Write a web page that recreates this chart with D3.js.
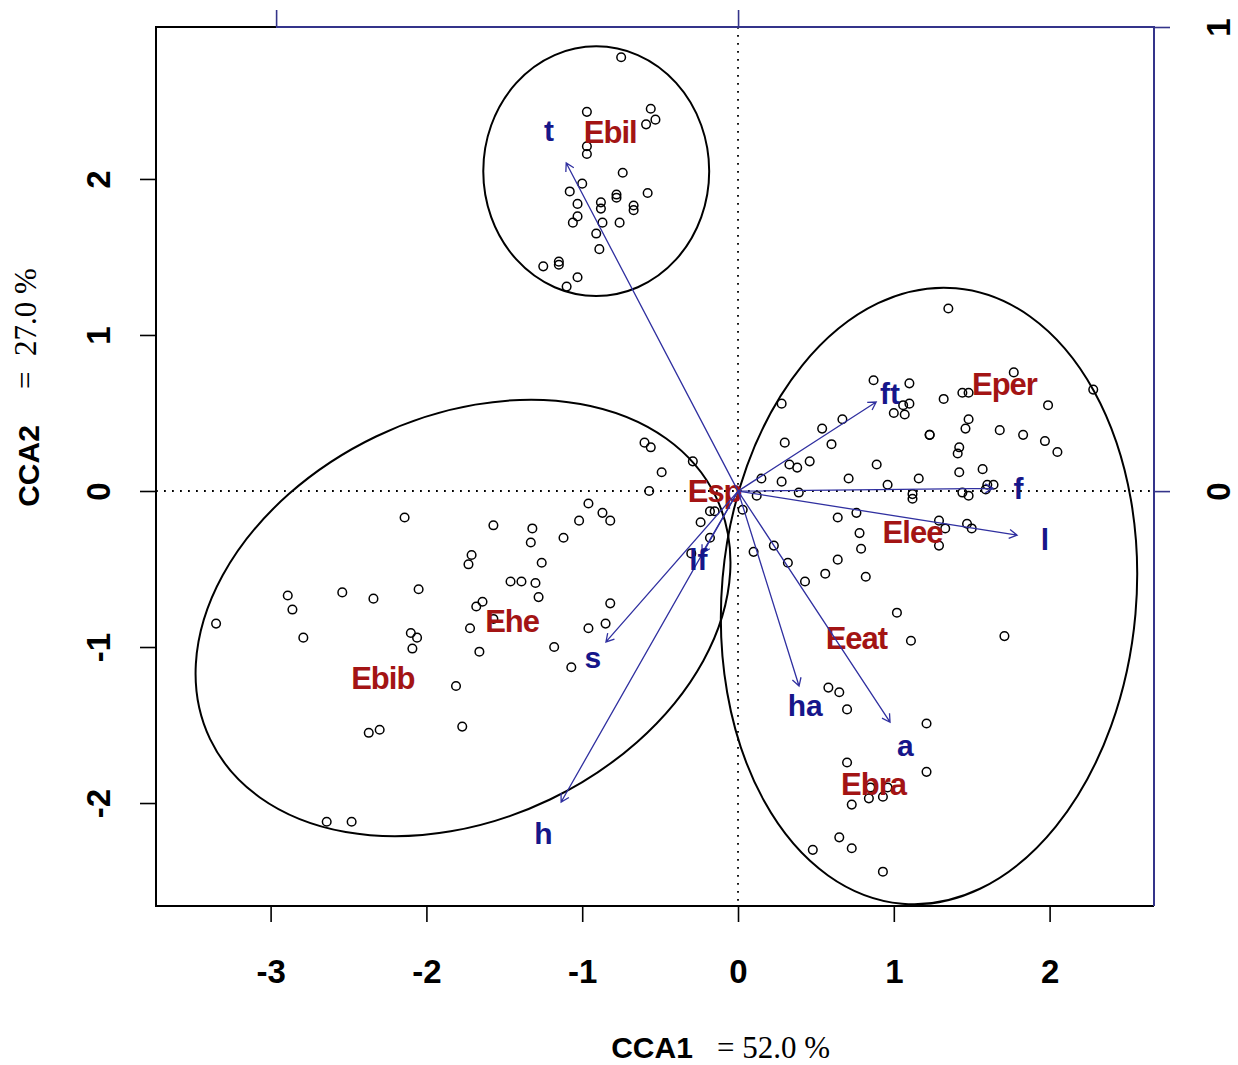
<html>
<head>
<meta charset="utf-8">
<script src="https://cdn.jsdelivr.net/npm/d3@7/dist/d3.min.js"></script>
<style>
  body { margin: 0; background: #fff; }
  text { font-family: "Liberation Sans", Arial, sans-serif; }
</style>
</head>
<body>
<svg id="chart" width="1238" height="1065"></svg>
<script>

    // site scores (CCA1, CCA2), one array per group
    var sitesTop = [
        [-0.75,2.78],[-0.97,2.43],[-0.56,2.45],[-0.59,2.35],[-0.53,2.38],[-0.97,2.21],[-0.97,2.16],
        [-0.74,2.04],[-1.00,1.97],[-1.08,1.92],[-0.78,1.90],[-0.78,1.88],[-0.58,1.91],[-1.03,1.84],
        [-0.88,1.85],[-0.88,1.81],[-0.67,1.83],[-0.67,1.80],[-1.03,1.76],[-1.06,1.72],[-0.87,1.72],
        [-0.76,1.72],[-0.91,1.65],[-0.89,1.55],[-1.25,1.44],[-1.15,1.47],[-1.15,1.45],[-1.03,1.37],
        [-1.10,1.31]
    ];
    var sitesLeft = [
        [-0.60,0.31],[-0.56,0.28],[-0.29,0.19],[-0.49,0.12],[-0.57,0.00],[-0.96,-0.08],[-0.87,-0.14],
        [-0.82,-0.19],[-1.02,-0.19],[-1.12,-0.30],[-1.32,-0.24],[-1.33,-0.33],[-1.57,-0.22],[-2.14,-0.17],
        [-1.71,-0.41],[-1.73,-0.47],[-1.26,-0.46],[-1.46,-0.58],[-1.39,-0.58],[-1.30,-0.59],[-1.28,-0.68],
        [-1.64,-0.71],[-1.68,-0.74],[-1.57,-0.82],[-1.72,-0.88],[-2.05,-0.63],[-2.34,-0.69],[-2.54,-0.65],
        [-2.89,-0.67],[-2.86,-0.76],[-3.35,-0.85],[-2.79,-0.94],[-2.10,-0.91],[-2.06,-0.94],[-2.09,-1.01],
        [-1.66,-1.03],[-1.18,-1.00],[-0.82,-0.72],[-0.96,-0.88],[-0.85,-0.85],[-1.07,-1.13],[-1.81,-1.25],
        [-2.37,-1.55],[-2.30,-1.53],[-1.77,-1.51],[-2.64,-2.12],[-2.48,-2.12],[-0.18,-0.13],[-0.15,-0.13],
        [-0.24,-0.20],[-0.18,-0.30],[-0.30,-0.40]
    ];
    var sitesRight = [
        [1.35,1.17],[1.77,0.76],[2.28,0.65],[0.87,0.71],[1.10,0.69],[0.28,0.56],[1.32,0.59],[1.44,0.63],
        [1.48,0.63],[1.99,0.55],[1.06,0.55],[1.10,0.56],[1.00,0.50],[1.07,0.49],[1.48,0.46],[1.46,0.40],
        [0.67,0.46],[0.54,0.40],[1.68,0.39],[1.83,0.36],[1.23,0.36],[1.23,0.36],[1.97,0.32],[2.05,0.25],
        [0.30,0.31],[0.60,0.30],[1.42,0.28],[1.41,0.24],[0.33,0.17],[0.38,0.15],[0.46,0.19],[0.89,0.17],
        [1.42,0.12],[1.57,0.14],[0.15,0.08],[0.28,0.06],[0.71,0.08],[1.16,0.08],[0.96,0.04],[1.60,0.04],
        [1.64,0.04],[0.12,-0.03],[0.39,-0.01],[1.12,-0.02],[1.12,-0.05],[1.44,-0.01],[1.48,-0.03],
        [1.59,0.01],[0.03,-0.12],[0.64,-0.17],[0.76,-0.14],[1.29,-0.19],[1.33,-0.24],[1.47,-0.21],
        [1.50,-0.24],[0.78,-0.27],[0.79,-0.37],[1.29,-0.35],[0.10,-0.39],[0.23,-0.35],[0.32,-0.46],
        [0.64,-0.44],[0.56,-0.53],[0.82,-0.55],[0.43,-0.58],[1.02,-0.78],[1.11,-0.96],[1.71,-0.93],
        [0.58,-1.26],[0.65,-1.29],[0.70,-1.40],[1.21,-1.49],[0.70,-1.74],[1.21,-1.80],[0.73,-2.01],
        [0.84,-1.97],[0.93,-1.96],[0.85,-1.90],[0.96,-1.90],[0.65,-2.22],[0.73,-2.29],[0.48,-2.30],
        [0.93,-2.44]
    ];

    // species scores
    var species = ["Ebil", "Eper", "Elee", "Eeat", "Ebra", "Ebib", "Ehe", "Esp"];
    var speciesX = [-0.82, 1.71, 1.12, 0.76, 0.87, -2.28, -1.45, -0.15];
    var speciesY = [2.30, 0.69, -0.26, -0.94, -1.88, -1.20, -0.83, 0.00];

    // environmental variables (biplot arrows, top/right axis units)
    var variables = ["t", "ft", "f", "l", "ha", "a", "h", "s", "lf"];
    var arrowX = [-0.372, 0.299, 0.552, 0.604, 0.132, 0.329, -0.383, -0.286, -0.078];
    var arrowY = [0.707, 0.192, 0.006, -0.095, -0.420, -0.498, -0.670, -0.325, -0.134];

    // group hulls drawn as ellipses: centre, semi axes, tilt in degrees
    var hulls = [
        {cx: -0.91, cy: 2.05, rx: 0.725, ry: 0.80, angle: 0},
        {cx: 1.226, cy: -0.673, rx: 1.33, ry: 1.98, angle: 5},
        {cx: -1.765, cy: -0.814, rx: 1.80, ry: 1.29, angle: -25.6}
    ];

    var xTicks = [-3, -2, -1, 0, 1, 2];
    var yTicks = [-2, -1, 0, 1, 2];
    var topTicks = [-1, 0];
    var rightTicks = [0, 1];

    var pL = 156, pR = 1154, pT = 27, pB = 906;
    var blue = "#34348a", navy = "#16168a", red = "#a31414";

    var svg = d3.select("#chart");

    var x = d3.scaleLinear().domain([-3.7356, 2.670]).range([pL, pR]);
    var y = d3.scaleLinear().domain([-2.660, 2.974]).range([pB, pT]);
    var xb = d3.scaleLinear().domain([-1.26, 0.9004]).range([pL, pR]);
    var yb = d3.scaleLinear().domain([-0.894, 1.0]).range([pB, pT]);

    // dotted zero lines
    svg.append("line")
        .attr("x1", x(0)).attr("x2", x(0)).attr("y1", pT).attr("y2", pB)
        .attr("stroke", "#000").attr("stroke-width", 1.8).attr("stroke-dasharray", "1.8,6.2");
    svg.append("line")
        .attr("x1", pL).attr("x2", pR).attr("y1", y(0)).attr("y2", y(0))
        .attr("stroke", "#000").attr("stroke-width", 1.8).attr("stroke-dasharray", "1.8,6.2");

    // ellipses
    svg.selectAll("ellipse")
        .data(hulls)
        .enter()
        .append("ellipse")
        .attr("transform", function(d){
            return "translate(" + x(d.cx) + "," + y(d.cy) + ") rotate(" + d.angle + ")";
        })
        .attr("rx", function(d){ return x(d.cx + d.rx) - x(d.cx); })
        .attr("ry", function(d){ return y(d.cy) - y(d.cy + d.ry); })
        .attr("fill", "none")
        .attr("stroke", "#000")
        .attr("stroke-width", 2);

    // sites
    var sites = sitesTop.concat(sitesLeft, sitesRight);
    svg.selectAll("circle.site")
        .data(sites)
        .enter()
        .append("circle")
        .attr("class", "site")
        .attr("cx", function(d){ return x(d[0]); })
        .attr("cy", function(d){ return y(d[1]); })
        .attr("r", 4.3)
        .attr("fill", "none")
        .attr("stroke", "#000")
        .attr("stroke-width", 1.5);

    // species labels
    svg.selectAll("text.sp")
        .data(species)
        .enter()
        .append("text")
        .attr("class", "sp")
        .attr("x", function(d, i){ return x(speciesX[i]); })
        .attr("y", function(d, i){ return y(speciesY[i]); })
        .attr("dy", "0.36em")
        .attr("text-anchor", "middle")
        .attr("font-size", 31)
        .attr("font-weight", "bold")
        .attr("letter-spacing", -1)
        .attr("fill", red)
        .text(function(d){ return d; });

    // arrows
    function arrowPath(i) {
        var x0 = xb(0), y0 = yb(0), x1 = xb(arrowX[i]), y1 = yb(arrowY[i]);
        var a = Math.atan2(y1 - y0, x1 - x0), len = 9, spread = Math.PI / 6;
        return "M" + x0 + "," + y0 + "L" + x1 + "," + y1 +
            "M" + (x1 - len * Math.cos(a - spread)) + "," + (y1 - len * Math.sin(a - spread)) +
            "L" + x1 + "," + y1 +
            "L" + (x1 - len * Math.cos(a + spread)) + "," + (y1 - len * Math.sin(a + spread));
    }
    svg.selectAll("path.arrow")
        .data(variables)
        .enter()
        .append("path")
        .attr("class", "arrow")
        .attr("d", function(d, i){ return arrowPath(i); })
        .attr("fill", "none")
        .attr("stroke", "#3030a0")
        .attr("stroke-width", 1.3);

    svg.selectAll("text.env")
        .data(variables)
        .enter()
        .append("text")
        .attr("class", "env")
        .attr("x", function(d, i){ return xb(arrowX[i] * 1.1); })
        .attr("y", function(d, i){ return yb(arrowY[i] * 1.1); })
        .attr("dy", "0.36em")
        .attr("text-anchor", "middle")
        .attr("font-size", 30)
        .attr("font-weight", "bold")
        .attr("fill", navy)
        .text(function(d){ return d; });

    // frame: black left / bottom / top-left, blue top / right axes
    svg.append("path")
        .attr("d", "M" + xb(-1) + "," + pT + "H" + pL + "V" + pB + "H" + pR)
        .attr("fill", "none").attr("stroke", "#000").attr("stroke-width", 2);

    var fmt = function(d){ return String(d); };

    var gb = svg.append("g").attr("transform", "translate(0," + pB + ")")
        .call(d3.axisBottom(x).tickValues(xTicks).tickSize(16).tickFormat(fmt));
    gb.select(".domain").remove();
    gb.selectAll("line").attr("stroke", "#000").attr("stroke-width", 1.6);
    gb.selectAll("text").attr("y", 77).attr("dy", 0)
        .attr("font-size", 33).attr("font-weight", "bold").attr("fill", "#000");

    var gl = svg.append("g").attr("transform", "translate(" + pL + ",0)")
        .call(d3.axisLeft(y).tickValues(yTicks).tickSize(16).tickFormat(fmt));
    gl.select(".domain").remove();
    gl.selectAll("line").attr("stroke", "#000").attr("stroke-width", 1.6);
    gl.selectAll("text").attr("transform", "rotate(-90)")
        .attr("x", 0).attr("y", -46).attr("dy", 0).attr("text-anchor", "middle")
        .attr("font-size", 33).attr("font-weight", "bold").attr("fill", "#000");

    var gt = svg.append("g").attr("transform", "translate(0," + pT + ")")
        .call(d3.axisTop(xb).tickValues(topTicks).tickSize(17).tickFormat(""));
    gt.select(".domain").remove();
    gt.selectAll("line").attr("stroke", blue).attr("stroke-width", 1.6);

    var gr = svg.append("g").attr("transform", "translate(" + pR + ",0)")
        .call(d3.axisRight(yb).tickValues(rightTicks).tickSize(16).tickFormat(fmt));
    gr.select(".domain").remove();
    gr.selectAll("line").attr("stroke", blue).attr("stroke-width", 1.6);
    gr.selectAll("text").attr("transform", "rotate(-90)")
        .attr("x", 0).attr("y", 76).attr("dy", 0).attr("text-anchor", "middle")
        .attr("font-size", 33).attr("font-weight", "bold").attr("fill", "#000");

    svg.append("path")
        .attr("d", "M" + xb(-1) + "," + pT + "H" + pR + "V" + pB)
        .attr("fill", "none").attr("stroke", blue).attr("stroke-width", 2);

    // axis titles
    svg.append("text")
        .attr("x", 652).attr("y", 1058)
        .attr("text-anchor", "middle")
        .attr("font-size", 30).attr("font-weight", "bold")
        .text("CCA1");
    svg.append("text")
        .attr("x", 717).attr("y", 1058)
        .attr("font-size", 31)
        .style("font-family", "'Liberation Serif', 'Times New Roman', serif")
        .text("= 52.0 %");

    svg.append("text")
        .attr("transform", "translate(39,466) rotate(-90)")
        .attr("text-anchor", "middle")
        .attr("font-size", 30).attr("font-weight", "bold")
        .text("CCA2");
    svg.append("text")
        .attr("transform", "translate(36,389) rotate(-90)")
        .attr("font-size", 31)
        .attr("xml:space", "preserve")
        .style("font-family", "'Liberation Serif', 'Times New Roman', serif")
        .text("=  27.0 %");

</script>
</body>
</html>
